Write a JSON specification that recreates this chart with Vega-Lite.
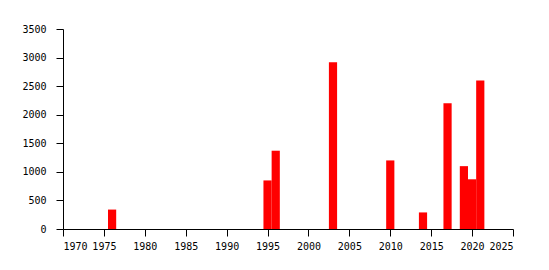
{
  "$schema": "https://vega.github.io/schema/vega-lite/v6.json",
  "autosize": "none",
  "width": 450,
  "height": 200,
  "padding": {"left": 63, "top": 29, "right": 36, "bottom": 41},
  "background": "white",
  "config": {
    "view": {"stroke": null},
    "axis": {
      "grid": false,
      "domainColor": "black",
      "tickColor": "black",
      "domainWidth": 1,
      "tickWidth": 1,
      "tickSize": 7,
      "labelFont": "DejaVu Sans Mono",
      "labelFontSize": 10,
      "labelColor": "black",
      "title": null
    }
  },
  "data": {
    "values": [
      {"year": 1976, "value": 340},
      {"year": 1995, "value": 850},
      {"year": 1996, "value": 1370},
      {"year": 2003, "value": 2920},
      {"year": 2010, "value": 1200},
      {"year": 2014, "value": 290},
      {"year": 2017, "value": 2200},
      {"year": 2019, "value": 1100},
      {"year": 2020, "value": 870},
      {"year": 2021, "value": 2600}
    ]
  },
  "mark": {"type": "bar", "color": "#ff0000", "size": 8.2},
  "encoding": {
    "x": {
      "field": "year",
      "type": "quantitative",
      "scale": {"domain": [1970, 2025], "nice": false, "zero": false, "padding": 0},
      "axis": {"values": [1970, 1975, 1980, 1985, 1990, 1995, 2000, 2005, 2010, 2015, 2020, 2025], "format": "d", "labelPadding": 5}
    },
    "y": {
      "field": "value",
      "type": "quantitative",
      "scale": {"domain": [0, 3500], "nice": false},
      "axis": {"values": [0, 500, 1000, 1500, 2000, 2500, 3000, 3500], "format": "d", "labelPadding": 10}
    }
  }
}
